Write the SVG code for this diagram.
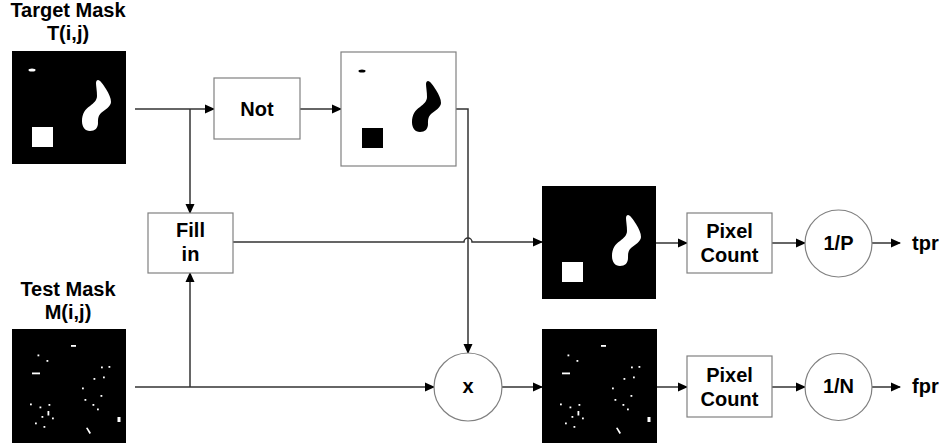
<svg xmlns="http://www.w3.org/2000/svg" width="943" height="448" viewBox="0 0 943 448">
<style>
.t{font-family:"Liberation Sans",Arial,sans-serif;font-weight:bold;font-size:20px;fill:#000;text-anchor:middle}
.ts{text-anchor:start}
.box{fill:#fff;stroke:#808080;stroke-width:1.2}
.ln{fill:none;stroke:#333;stroke-width:1.5}
</style>
<defs>
<marker id="ah" markerWidth="10" markerHeight="10" refX="9" refY="5" orient="auto" markerUnits="userSpaceOnUse">
<path d="M0,0.5 L10,5 L0,9.5 Z" fill="#000"/>
</marker>
<path id="blob" d="M86,29 C88,29 91,33 94,38 C97,43 99,47 99,51 C99,55 93,59 89,62 C86,65 86,68 86,72 C86,77 83,80 78,80 C73,80 70,76 70,70 C70,63 73,58 78,55 C82,52 85,49 85,45 C85,40 84,35 84,32 C84,30 85,29 86,29 Z"/>
<g id="fshapes">
<rect x="20" y="76" width="21" height="20"/>
<use href="#blob"/>
</g>
<g id="tshapes">
<ellipse cx="20" cy="19" rx="3.5" ry="1.5"/>
<use href="#fshapes"/>
</g>
<g id="dots" fill="#fff">
<rect x="59" y="16" width="5" height="1.8"/>
<rect x="25.5" y="25.5" width="1.8" height="1.8"/>
<rect x="34.5" y="31" width="1.8" height="1.8"/>
<rect x="20" y="43.5" width="8" height="1.8"/>
<rect x="89" y="37.5" width="1.8" height="1.8"/>
<rect x="96.5" y="37" width="1.8" height="1.8"/>
<rect x="81.5" y="49" width="1.8" height="1.8"/>
<rect x="91" y="47.5" width="1.8" height="1.8"/>
<rect x="70" y="58.5" width="1.8" height="1.8"/>
<rect x="88.5" y="66" width="1.8" height="1.8"/>
<rect x="72.5" y="70" width="1.8" height="1.8"/>
<rect x="80.5" y="75" width="1.8" height="1.8"/>
<rect x="85" y="79.5" width="1.8" height="1.8"/>
<rect x="18" y="74.5" width="1.8" height="1.8"/>
<rect x="27.5" y="77.5" width="1.8" height="1.8"/>
<rect x="36.5" y="75" width="1.8" height="1.8"/>
<rect x="35.5" y="82" width="1.8" height="4.5"/>
<rect x="29.5" y="87" width="1.8" height="1.8"/>
<rect x="40" y="88.5" width="1.8" height="1.8"/>
<rect x="23" y="93.5" width="1.8" height="1.8"/>
<rect x="31.5" y="97" width="1.8" height="1.8"/>
<rect x="105.5" y="88" width="3" height="5"/>
<path d="M74,99 L75.5,98.5 L79,104 L77.5,105 Z"/>
</g>
</defs>

<g id="connectors">
<path class="ln" d="M135,109 H214" marker-end="url(#ah)"/>
<path class="ln" d="M190,109 V213" marker-end="url(#ah)"/>
<path class="ln" d="M300,109 H341" marker-end="url(#ah)"/>
<path class="ln" d="M456,109 H468 V353" marker-end="url(#ah)"/>
<path class="ln" d="M233,242 H464 A4,4 0 0 1 472,242 H542" marker-end="url(#ah)"/>
<path class="ln" d="M135,387 H434" marker-end="url(#ah)"/>
<path class="ln" d="M190,387 V273" marker-end="url(#ah)"/>
<path class="ln" d="M502,387 H542" marker-end="url(#ah)"/>
<path class="ln" d="M656,243 H687" marker-end="url(#ah)"/>
<path class="ln" d="M657,387 H687" marker-end="url(#ah)"/>
<path class="ln" d="M772,243 H805" marker-end="url(#ah)"/>
<path class="ln" d="M772,387 H805" marker-end="url(#ah)"/>
<path class="ln" d="M872,243 H900" marker-end="url(#ah)"/>
<path class="ln" d="M872,387 H900" marker-end="url(#ah)"/>
</g>

<g id="target-mask">
<text class="t" x="68" y="17">Target Mask</text>
<text class="t" x="68" y="40">T(i,j)</text>
<rect x="12" y="51" width="114" height="113" fill="#000"/>
<use href="#tshapes" x="12" y="51" fill="#fff"/>
</g>

<g id="not">
<rect class="box" x="214" y="78" width="86" height="61"/>
<text class="t" x="257" y="116">Not</text>
</g>

<g id="not-image">
<rect class="box" x="341" y="52" width="115" height="114"/>
<use href="#tshapes" x="342" y="52" fill="#000"/>
</g>

<g id="fill-in">
<rect class="box" x="148" y="213" width="85" height="60"/>
<text class="t" x="190.5" y="237">Fill</text>
<text class="t" x="190.5" y="261">in</text>
</g>

<g id="test-mask">
<text class="t" x="68" y="296">Test Mask</text>
<text class="t" x="68" y="319">M(i,j)</text>
<rect x="12" y="329" width="114" height="114" fill="#000"/>
<use href="#dots" x="12" y="329"/>
</g>

<g id="multiply">
<circle class="box" cx="468" cy="387" r="34"/>
<text class="t" x="468" y="393">x</text>
</g>

<g id="filled-image">
<rect x="542" y="186" width="114" height="113" fill="#000"/>
<use href="#fshapes" x="542" y="186" fill="#fff"/>
</g>

<g id="product-image">
<rect x="542" y="329" width="115" height="114" fill="#000"/>
<use href="#dots" x="542" y="329"/>
</g>

<g id="pixel-count-1">
<rect class="box" x="687" y="213" width="85" height="60"/>
<text class="t" x="729.5" y="238">Pixel</text>
<text class="t" x="729.5" y="262">Count</text>
</g>

<g id="pixel-count-2">
<rect class="box" x="687" y="356" width="85" height="61"/>
<text class="t" x="729.5" y="382">Pixel</text>
<text class="t" x="729.5" y="406">Count</text>
</g>

<g id="inv-p">
<circle class="box" cx="838.5" cy="243.5" r="33.5"/>
<text class="t" x="838.5" y="250">1/P</text>
</g>

<g id="inv-n">
<circle class="box" cx="838.5" cy="387" r="33.5"/>
<text class="t" x="838.5" y="393">1/N</text>
</g>

<g id="tpr"><text class="t ts" x="912" y="250">tpr</text></g>
<g id="fpr"><text class="t ts" x="912" y="393">fpr</text></g>
</svg>
